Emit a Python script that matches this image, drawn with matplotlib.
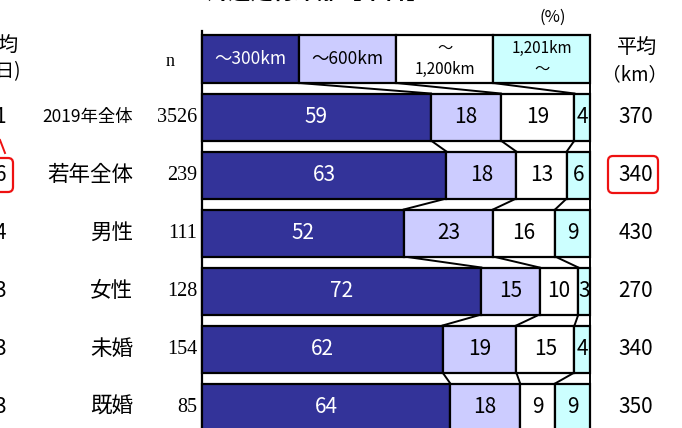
import numpy as np
import matplotlib
matplotlib.use("Agg")
import matplotlib.pyplot as plt
from matplotlib.patches import FancyBboxPatch

plt.rcParams['font.family'] = ['Noto Sans CJK JP', 'DejaVu Sans']

# ---- data ----
groups = ['2019年全体', '若年全体', '男性', '女性', '未婚', '既婚']
n_vals = [3526, 239, 111, 128, 154, 85]
band_labels = ['～300km', '～600km', '～\n1,200km', '1,201km\n～']
band_colors = ['#333399', '#ccccff', '#ffffff', '#ccffff']
band_text = ['white', 'black', 'black', 'black']
shares = np.array([
    [59, 18, 19, 4],
    [63, 18, 13, 6],
    [52, 23, 16, 9],
    [72, 15, 10, 3],
    [62, 19, 15, 4],
    [64, 18, 9, 9],
])
avg_km = [370, 340, 430, 270, 340, 350]
left_avg = ['1', '6', '4', '3', '3', '3']   # left column, mostly cut off
header_share = [25, 25, 25, 25]

W, H = 682, 428
X0, X1 = 202, 590          # pixel span of 0..100 %
ROW0, STEP = 59, 58        # pixel centre of header row and row step
BAR_H = 47 / STEP

fig = plt.figure(figsize=(W / 100, H / 100), dpi=100)
ax = fig.add_axes([0, 0, 1, 1])
ppu = (X1 - X0) / 100.0
ax.set_xlim(-X0 / ppu, (W - X0) / ppu)
ax.set_ylim((H - ROW0) / STEP, -ROW0 / STEP)
ax.axis('off')

def px2x(px):
    return (px - X0) / ppu

def px2y(py):
    return (py - ROW0) / STEP

# header row (legend)
left = 0
for j, w in enumerate(header_share):
    ax.barh(0, w, left=left, height=48 / STEP, color=band_colors[j],
            edgecolor='black', linewidth=1.6, zorder=2)
    fs = 12.5 if '\n' not in band_labels[j] else 11
    ax.text(left + w / 2, 0, band_labels[j], ha='center', va='center',
            color=band_text[j], fontsize=fs, linespacing=1.35, zorder=3)
    left += w

# data rows
for i, row in enumerate(shares):
    y = i + 1
    left = 0
    for j, v in enumerate(row):
        ax.barh(y, v, left=left, height=BAR_H, color=band_colors[j],
                edgecolor='black', linewidth=1.6, zorder=2)
        ax.text(left + v / 2, y, str(v), ha='center', va='center',
                color=band_text[j], fontsize=15, zorder=3)
        left += v

# connector lines between rows
prev = np.cumsum(header_share)[:-1]
prev_bottom = 0 + 48 / STEP / 2
for i, row in enumerate(shares):
    y = i + 1
    cur = np.cumsum(row)[:-1]
    for a, b in zip(prev, cur):
        ax.plot([a, b], [prev_bottom, y - BAR_H / 2], color='black',
                linewidth=1.4, zorder=1)
    prev = cur
    prev_bottom = y + BAR_H / 2

# frame lines through the gaps
ax.plot([0, 0], [px2y(31), px2y(H + 5)], color='black', linewidth=1.6, zorder=1)
ax.plot([100, 100], [px2y(35), px2y(H + 5)], color='black', linewidth=1.4, zorder=1)

# text columns
for i, g in enumerate(groups):
    y = i + 1
    fs = 12.5 if g.startswith('2019') else 15.5
    ax.text(px2x(133), y, g, ha='right', va='center', fontsize=fs)
    ax.text(px2x(197), y, str(n_vals[i]), ha='right', va='center',
            fontsize=14.5, family='Liberation Serif')
    ax.text(px2x(636), y, str(avg_km[i]), ha='center', va='center', fontsize=15)
    ax.text(px2x(6), y, left_avg[i], ha='right', va='center', fontsize=15)

ax.text(px2x(170), px2y(62), 'n', ha='center', va='center', fontsize=13,
        family='Liberation Serif')
ax.text(px2x(637), px2y(47), '平均', ha='center', va='center', fontsize=14.5)
ax.text(px2x(635), px2y(75), '（km）', ha='center', va='center', fontsize=13.5)
ax.text(px2x(19), px2y(45), '平均', ha='right', va='center', fontsize=14.5)
ax.text(px2x(21), px2y(72), '(日)', ha='right', va='center', fontsize=13.5)
ax.text(px2x(553), px2y(17), '(%)', ha='center', va='center', fontsize=12)

# cut-off title at the very top
ax.text(px2x(318), px2y(-7), '片道走行距離【平日】', ha='center', va='center',
        fontsize=16, fontweight='bold')

# red highlight boxes, drawn on a pixel overlay
ov = fig.add_axes([0, 0, 1, 1])
ov.set_xlim(0, W)
ov.set_ylim(H, 0)
ov.axis('off')
for (bx0, by0, bx1, by1) in [(-12, 158, 13, 192), (608, 156, 658, 193)]:
    ov.add_patch(FancyBboxPatch((bx0, by0), bx1 - bx0, by1 - by0,
                                boxstyle='round,pad=0,rounding_size=5',
                                fill=False, edgecolor='#ee1111', linewidth=1.6))
ov.plot([0, 5], [140, 153], color='#ee1111', linewidth=1.4)

fig.savefig('out.png', dpi=100)
